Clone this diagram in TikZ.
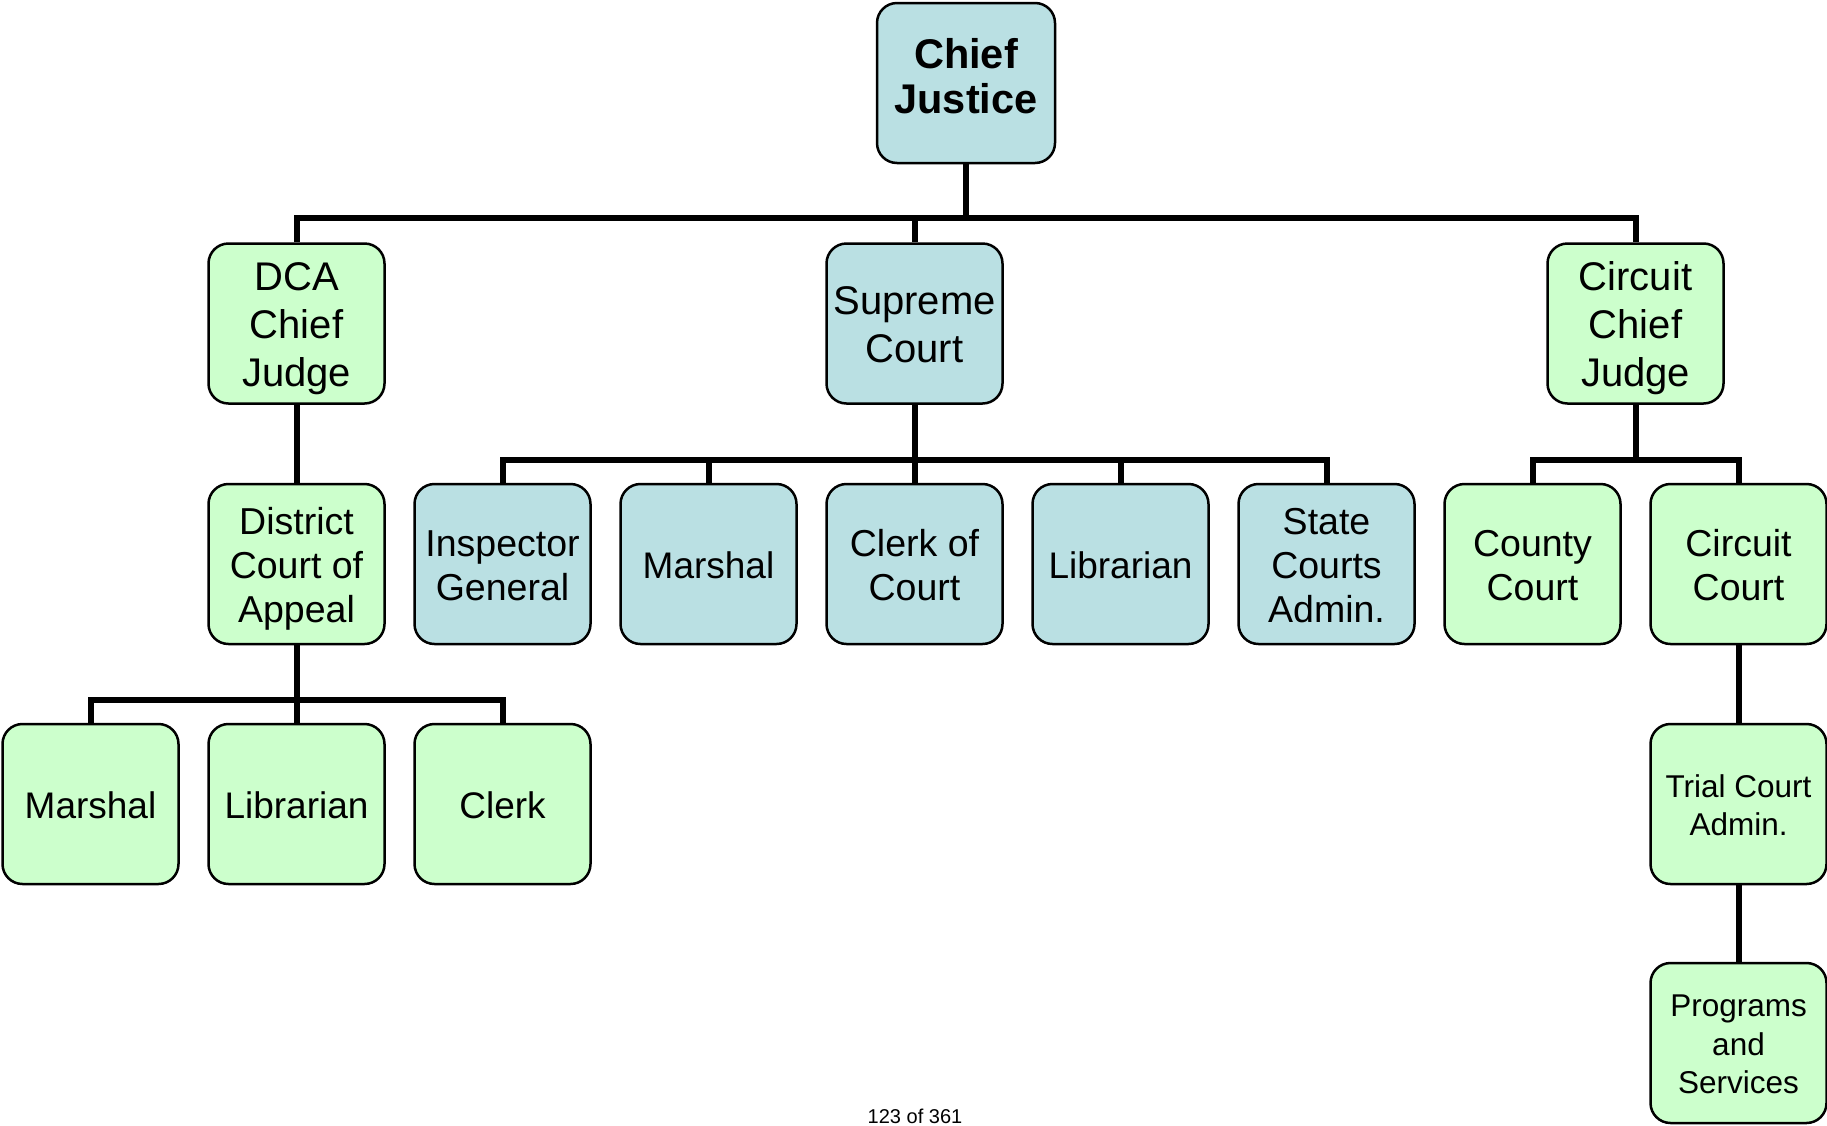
\documentclass[tikz,border=0pt]{standalone}
\usepackage{fontspec}
\setmainfont{Liberation Sans}
\definecolor{boxblue}{RGB}{186,224,227}
\definecolor{boxgreen}{RGB}{204,255,204}
\begin{document}
\begin{tikzpicture}[x=1pt,y=-1pt,
  orgbox/.style={draw=black, line width=2.5pt, rounded corners=20pt,
    minimum width=176pt, minimum height=160pt, inner sep=0pt, align=center},
  midtxt/.style={font=\fontsize{37.5}{44}\selectfont, text depth=7.9pt},
  bluebox/.style={orgbox, midtxt, fill=boxblue},
  greenbox/.style={orgbox, midtxt, fill=boxgreen},
  oneline/.style={font=\fontsize{37}{44}\selectfont, text height=36.1pt, text depth=7.9pt},
  twoline/.style={text height=80.1pt},
  threeline/.style={text height=124.1pt},
  bigtwo/.style={font=\fontsize{40}{48}\selectfont, text height=87.4pt, text depth=8.6pt},
  bigthree/.style={font=\fontsize{40}{48}\selectfont, text height=135.4pt, text depth=8.6pt},
  smalltwo/.style={font=\fontsize{31.5}{38.5}\selectfont, text height=70.1pt, text depth=6.9pt},
  smallthree/.style={font=\fontsize{31.5}{38.5}\selectfont, text height=108.6pt, text depth=6.9pt},
  conn/.style={draw=black, line width=6pt}
]
\useasboundingbox (0,0) rectangle (1827,1125);

% row 1
\node[orgbox, fill=boxblue, minimum width=178pt, font=\fontsize{41.5}{45}\selectfont\bfseries,
  text height=75pt, text depth=14pt] (cj) at (966,83) {Chief\\Justice};
% row 2
\node[greenbox, bigthree] (dca) at (296.5,323.5) {DCA\\Chief\\Judge};
\node[bluebox, bigtwo] (sc) at (914.5,323.5) {Supreme\\Court};
\node[greenbox, bigthree] (ccj) at (1635.5,323.5) {Circuit\\Chief\\Judge};
% row 3
\node[greenbox, threeline] (dist) at (296.5,564) {District\\Court of\\Appeal};
\node[bluebox, twoline] (ig) at (502.5,564) {Inspector\\General};
\node[bluebox, oneline] (mar) at (708.5,564) {Marshal};
\node[bluebox, twoline] (coc) at (914.5,564) {Clerk of\\Court};
\node[bluebox, oneline] (lib) at (1120.5,564) {Librarian};
\node[bluebox, threeline] (sca) at (1326.5,564) {State\\Courts\\Admin.};
\node[greenbox, twoline] (county) at (1532.5,564) {County\\Court};
\node[greenbox, twoline] (circ) at (1738.5,564) {Circuit\\Court};
% row 4
\node[greenbox, oneline] (mar2) at (90.5,804) {Marshal};
\node[greenbox, oneline] (lib2) at (296.5,804) {Librarian};
\node[greenbox, oneline] (clerk2) at (502.5,804) {Clerk};
\node[greenbox, smalltwo] (tca) at (1738.5,804) {Trial Court\\Admin.};
% row 5
\node[greenbox, smallthree] (prog) at (1738.5,1043) {Programs\\and\\Services};

% footer
\node[anchor=base, inner sep=0pt, font=\fontsize{20}{24}\selectfont] (pg) at (915,1123) {123 of 361};

% bus coordinates
\coordinate (b1) at (966,218);
\coordinate (b2) at (914.5,460);
\coordinate (b3) at (1635.5,460);
\coordinate (b4) at (296.5,700);

% connectors
\draw[conn] (cj.south) -- (b1);
\draw[conn] (dca.north) |- (b1) -| (ccj.north);
\draw[conn] (sc.north) -- (sc.north |- b1);

\draw[conn] (dca.south) -- (dist.north);

\draw[conn] (sc.south) -- (coc.north);
\draw[conn] (ig.north) |- (b2) -| (sca.north);
\draw[conn] (mar.north) -- (mar.north |- b2);
\draw[conn] (lib.north) -- (lib.north |- b2);

\draw[conn] (ccj.south) -- (b3);
\draw[conn] (county.north) |- (b3) -| (circ.north);

\draw[conn] (dist.south) -- (lib2.north);
\draw[conn] (mar2.north) |- (b4) -| (clerk2.north);

\draw[conn] (circ.south) -- (tca.north);
\draw[conn] (tca.south) -- (prog.north);
\end{tikzpicture}
\end{document}
